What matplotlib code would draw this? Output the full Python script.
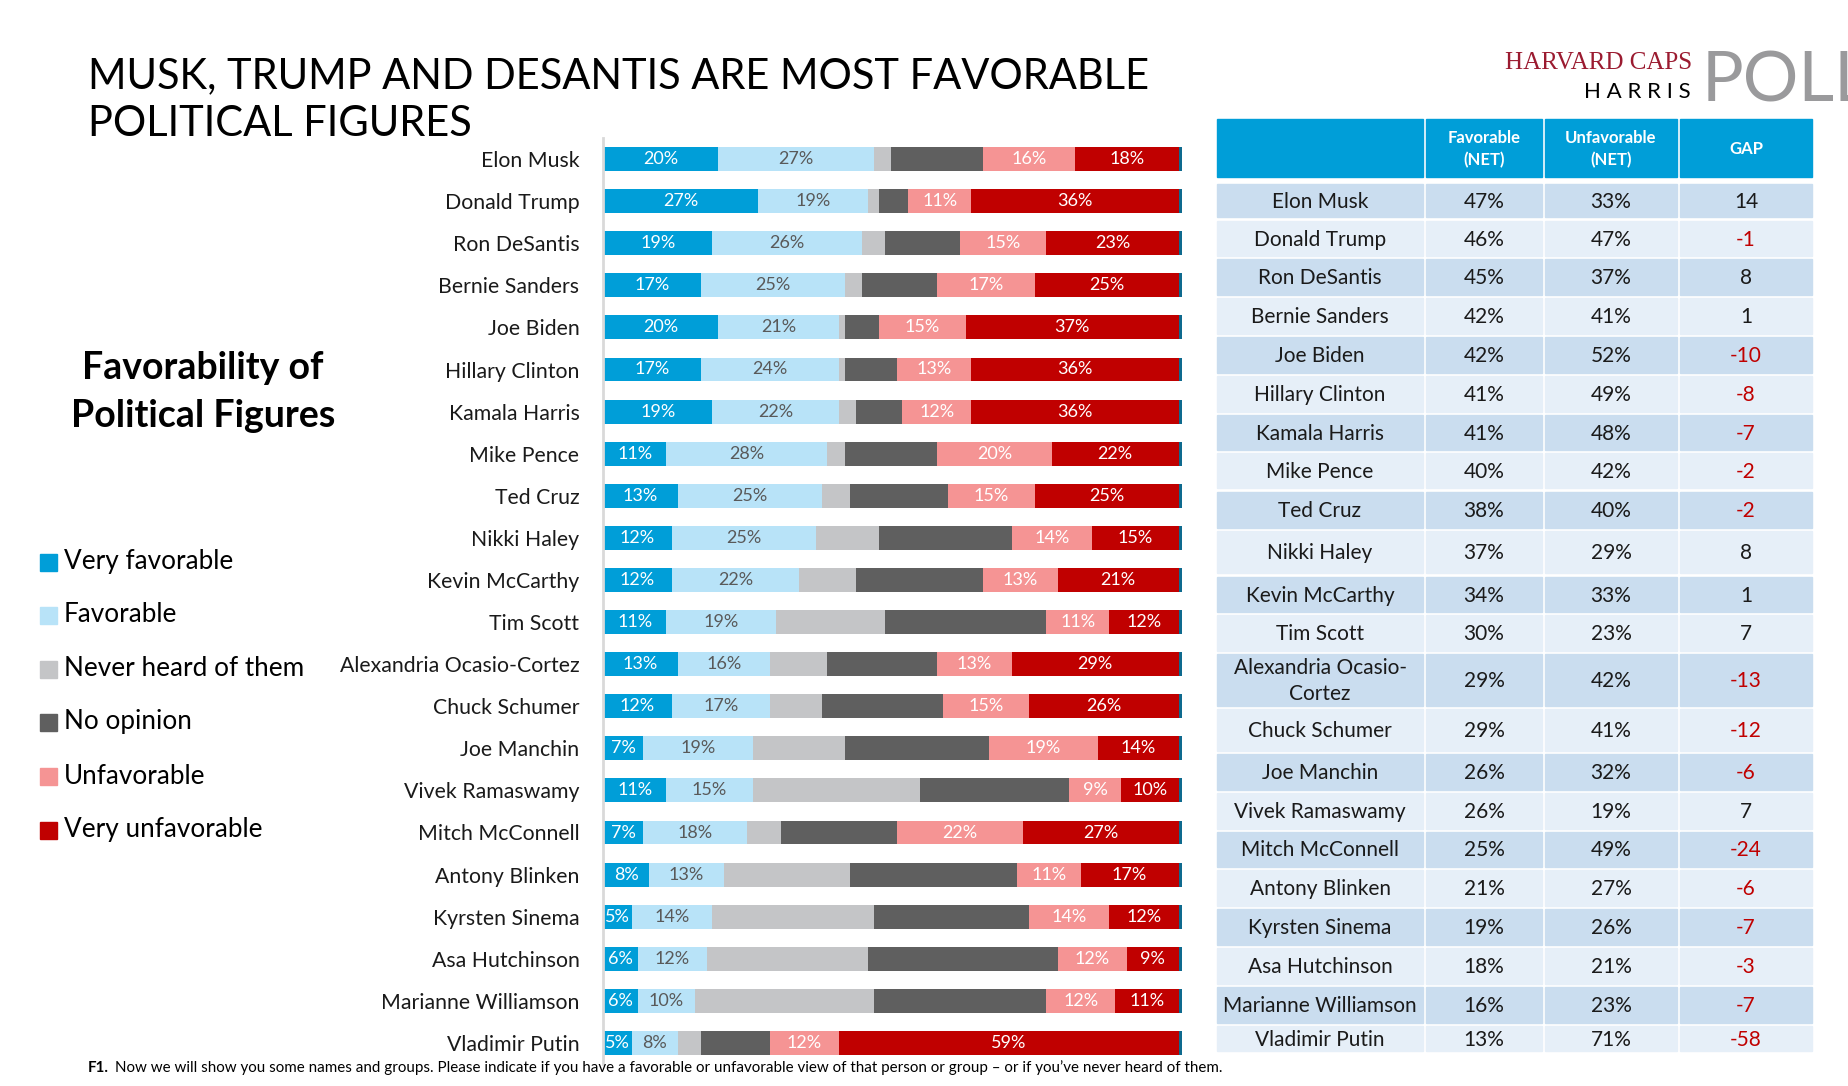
import matplotlib
matplotlib.use('Agg')
import matplotlib.pyplot as plt
from matplotlib.patches import Rectangle

plt.rcParams['font.family'] = ['Lato', 'DejaVu Sans']

# ---- data ----
names = ['Elon Musk', 'Donald Trump', 'Ron DeSantis', 'Bernie Sanders', 'Joe Biden',
         'Hillary Clinton', 'Kamala Harris', 'Mike Pence', 'Ted Cruz', 'Nikki Haley',
         'Kevin McCarthy', 'Tim Scott', 'Alexandria Ocasio-Cortez', 'Chuck Schumer',
         'Joe Manchin', 'Vivek Ramaswamy', 'Mitch McConnell', 'Antony Blinken',
         'Kyrsten Sinema', 'Asa Hutchinson', 'Marianne Williamson', 'Vladimir Putin']
very_fav = [20, 27, 19, 17, 20, 17, 19, 11, 13, 12, 12, 11, 13, 12, 7, 11, 7, 8, 5, 6, 6, 5]
fav = [27, 19, 26, 25, 21, 24, 22, 28, 25, 25, 22, 19, 16, 17, 19, 15, 18, 13, 14, 12, 10, 8]
never_heard = [3, 2, 4, 3, 1, 1, 3, 3, 5, 11, 10, 19, 10, 9, 16, 29, 6, 22, 28, 28, 31, 4]
no_opinion = [16, 5, 13, 13, 6, 9, 8, 16, 17, 23, 22, 28, 19, 21, 25, 26, 20, 29, 27, 33, 30, 12]
unfav = [16, 11, 15, 17, 15, 13, 12, 20, 15, 14, 13, 11, 13, 15, 19, 9, 22, 11, 14, 12, 12, 12]
very_unfav = [18, 36, 23, 25, 37, 36, 36, 22, 25, 15, 21, 12, 29, 26, 14, 10, 27, 17, 12, 9, 11, 59]

table_names = ['Elon Musk', 'Donald Trump', 'Ron DeSantis', 'Bernie Sanders', 'Joe Biden',
               'Hillary Clinton', 'Kamala Harris', 'Mike Pence', 'Ted Cruz', 'Nikki Haley',
               'Kevin McCarthy', 'Tim Scott', 'Alexandria Ocasio-\nCortez', 'Chuck Schumer',
               'Joe Manchin', 'Vivek Ramaswamy', 'Mitch McConnell', 'Antony Blinken',
               'Kyrsten Sinema', 'Asa Hutchinson', 'Marianne Williamson', 'Vladimir Putin']
fav_net = [47, 46, 45, 42, 42, 41, 41, 40, 38, 37, 34, 30, 29, 29, 26, 26, 25, 21, 19, 18, 16, 13]
unfav_net = [33, 47, 37, 41, 52, 49, 48, 42, 40, 29, 33, 23, 42, 41, 32, 19, 49, 27, 26, 21, 23, 71]
gap = [14, -1, 8, 1, -10, -8, -7, -2, -2, 8, 1, 7, -13, -12, -6, 7, -24, -6, -7, -3, -7, -58]

segments = ['Very favorable', 'Favorable', 'Never heard of them', 'No opinion',
            'Unfavorable', 'Very unfavorable']
colors = ['#009ED8', '#B8E3F8', '#C4C5C7', '#5F5F5F', '#F59494', '#C00000']
label_colors = ['white', '#595959', None, None, 'white', 'white']

W, H = 1848, 1086
fig = plt.figure(figsize=(W / 100, H / 100), dpi=100)

# ---- stacked bars ----
ax = fig.add_axes([603 / W, 1 - 1064 / H, (1182 - 603) / W, (1064 - 138) / H])
series = [very_fav, fav, never_heard, no_opinion, unfav, very_unfav]
ypos = list(range(len(names)))
left = [0] * len(names)
for vals, col, lcol in zip(series, colors, label_colors):
    ax.barh(ypos, vals, left=left, height=0.57, color=col, edgecolor='none')
    if lcol is not None:
        for y, v, l in zip(ypos, vals, left):
            ax.text(l + v / 2, y, f'{v}%', ha='center', va='center', color=lcol, fontsize=13)
    left = [a + b for a, b in zip(left, vals)]
# thin dark edge at the end of each bar
ax.barh(ypos, 0.55, left=left, height=0.57, color='#0E6A8E', edgecolor='none')
ax.set_xlim(0, 100.6)
ax.set_ylim(len(names) - 0.5, -0.5)
ax.set_yticks(ypos)
ax.set_yticklabels(names, fontsize=15.3, color='#1a1a1a')
ax.tick_params(axis='y', length=0, pad=17)
ax.set_xticks([])
for s in ['top', 'right', 'bottom']:
    ax.spines[s].set_visible(False)
ax.spines['left'].set_color('#D9D9D9')
ax.spines['left'].set_linewidth(2)

# ---- overlay axes in pixel coords ----
ov = fig.add_axes([0, 0, 1, 1])
ov.set_xlim(0, W)
ov.set_ylim(H, 0)
ov.axis('off')

ov.text(88, 88, 'MUSK, TRUMP AND DESANTIS ARE MOST FAVORABLE', fontsize=30, va='baseline')
ov.text(88, 136, 'POLITICAL FIGURES', fontsize=30, va='baseline')

ov.text(203, 392, 'Favorability of\nPolitical Figures', fontsize=27, fontweight='bold',
        ha='center', va='center', linespacing=1.5)

leg_y = [562, 615, 669, 722, 776, 830]
for yy, lab, col in zip(leg_y, segments, colors):
    ov.add_patch(Rectangle((40, yy - 8), 17, 17, color=col))
    ov.text(64, yy, lab, fontsize=18.8, va='center')

ov.text(88, 1068, 'F1.', fontsize=10.9, fontweight='bold', va='center')
ov.text(115, 1068, 'Now we will show you some names and groups. Please indicate if you have a '
        'favorable or unfavorable view of that person or group \u2013 or if you\u2019ve never heard of them.',
        fontsize=10.9, va='center')

# logo
ov.text(1692, 69, 'HARVARD CAPS', fontsize=18, color='#9B1B30', family='Liberation Serif',
        ha='right', va='baseline')
ov.text(1691, 98, 'H A R R I S', fontsize=16, color='black', ha='right', va='baseline')
ov.text(1702, 102, 'POLL', fontsize=50, color='#9A9A9C', ha='left', va='baseline')

# ---- table ----
col_x = [(1217, 1423), (1426, 1542), (1545, 1677), (1680, 1812)]
header_txt = ['', 'Favorable\n(NET)', 'Unfavorable\n(NET)', 'GAP']
for (x0, x1), t in zip(col_x, header_txt):
    ov.add_patch(Rectangle((x0, 119), x1 - x0, 58, color='#009ED8'))
    ov.text((x0 + x1) / 2, 149, t, color='white', fontsize=12, fontweight='bold',
            ha='center', va='center', linespacing=1.5)

row_tops = [184, 221, 259, 298, 337, 376, 415, 453, 492, 531, 577, 615, 654, 709, 754,
            793, 832, 870, 909, 948, 987, 1026]
row_bots = [217, 256, 295, 334, 373, 412, 450, 488, 528, 573, 612, 651, 706, 751, 790,
            829, 867, 906, 945, 984, 1023, 1051]
for i in range(len(table_names)):
    top, bot = row_tops[i], row_bots[i]
    bg = '#CADDEF' if i % 2 == 0 else '#E6EFF8'
    for x0, x1 in col_x:
        ov.add_patch(Rectangle((x0, top), x1 - x0, bot - top, color=bg))
    yc = (top + bot) / 2 + 1
    cells = [table_names[i], f'{fav_net[i]}%', f'{unfav_net[i]}%', str(gap[i])]
    for j, ((x0, x1), t) in enumerate(zip(col_x, cells)):
        c = '#C00000' if (j == 3 and gap[i] < 0) else '#1a1a1a'
        ov.text((x0 + x1) / 2, yc, t, fontsize=15, color=c, ha='center', va='center',
                linespacing=1.35)

fig.savefig('out.png', dpi=100, facecolor='white')
